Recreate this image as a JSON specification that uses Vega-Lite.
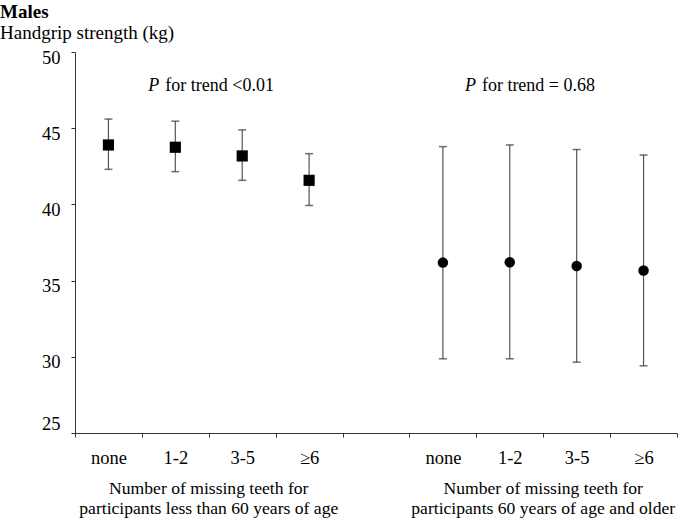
{
  "$schema": "https://vega.github.io/schema/vega-lite/v6.json",
  "width": 602,
  "height": 381,
  "autosize": {"type": "none"},
  "padding": {"left": 75, "top": 52, "right": 6, "bottom": 88},
  "background": "white",
  "title": {
    "text": "Males",
    "subtitle": "Handgrip strength (kg)",
    "anchor": "start",
    "frame": "group",
    "dx": -75,
    "offset": 5,
    "font": "Liberation Serif",
    "fontSize": 19,
    "fontWeight": "bold",
    "color": "black",
    "subtitleFont": "Liberation Serif",
    "subtitleFontSize": 19,
    "subtitleColor": "black",
    "subtitlePadding": 2
  },
  "config": {
    "view": {"stroke": null},
    "font": "Liberation Serif",
    "axis": {
      "domainColor": "#333",
      "tickColor": "#333",
      "labelColor": "black",
      "labelFont": "Liberation Serif",
      "labelFontSize": 18.5,
      "grid": false,
      "title": null,
      "tickSize": 4
    }
  },
  "datasets": {
    "pts": [
      {"key": "a_none", "group": "a", "mean": 43.9, "lo": 42.3, "hi": 45.6},
      {"key": "a_1-2", "group": "a", "mean": 43.75, "lo": 42.15, "hi": 45.46},
      {"key": "a_3-5", "group": "a", "mean": 43.18, "lo": 41.58, "hi": 44.89},
      {"key": "a_≥6", "group": "a", "mean": 41.58, "lo": 39.93, "hi": 43.33},
      {"key": "b_none", "group": "b", "mean": 36.18, "lo": 29.87, "hi": 43.79},
      {"key": "b_1-2", "group": "b", "mean": 36.2, "lo": 29.87, "hi": 43.9},
      {"key": "b_3-5", "group": "b", "mean": 35.96, "lo": 29.65, "hi": 43.6},
      {"key": "b_≥6", "group": "b", "mean": 35.66, "lo": 29.41, "hi": 43.24}
    ],
    "grp": [
      {"key": "a_3-5", "y": 21.9, "text": "Number of missing teeth for\nparticipants less than 60 years of age"},
      {"key": "b_3-5", "y": 21.9, "text": "Number of missing teeth for\nparticipants 60 years of age and older"}
    ]
  },
  "encoding": {
    "x": {
      "field": "key",
      "type": "ordinal",
      "sort": null,
      "scale": {
        "domain": ["a_none", "a_1-2", "a_3-5", "a_≥6", "gap", "b_none", "b_1-2", "b_3-5", "b_≥6"],
        "paddingInner": 0,
        "paddingOuter": 0
      },
      "axis": {
        "labelAngle": 0,
        "tickBand": "extent",
        "labelPadding": 11,
        "labelExpr": "datum.label == 'gap' ? '' : slice(datum.label, 2)"
      }
    }
  },
  "layer": [
    {
      "data": {"name": "pts"},
      "mark": {"type": "rule", "color": "#555", "strokeWidth": 1.2},
      "encoding": {
        "y": {
          "field": "lo",
          "type": "quantitative",
          "scale": {"domain": [25, 50], "nice": false, "zero": false},
          "axis": {
            "values": [25, 30, 35, 40, 45, 50],
            "labelPadding": 11,
            "labelOffset": {"condition": {"test": "datum.value == 25", "value": -10}, "value": 5}
          }
        },
        "y2": {"field": "hi"}
      }
    },
    {
      "data": {"name": "pts"},
      "mark": {"type": "tick", "color": "#333", "size": 8, "thickness": 1.5},
      "encoding": {"y": {"field": "lo", "type": "quantitative", "scale": {"domain": [25, 50], "nice": false, "zero": false}}}
    },
    {
      "data": {"name": "pts"},
      "mark": {"type": "tick", "color": "#333", "size": 8, "thickness": 1.5},
      "encoding": {"y": {"field": "hi", "type": "quantitative", "scale": {"domain": [25, 50], "nice": false, "zero": false}}}
    },
    {
      "data": {"name": "pts"},
      "mark": {"type": "point", "filled": true, "color": "black", "opacity": 1},
      "encoding": {
        "y": {"field": "mean", "type": "quantitative", "scale": {"domain": [25, 50], "nice": false, "zero": false}},
        "shape": {"field": "group", "type": "nominal", "scale": {"domain": ["a", "b"], "range": ["square", "circle"]}, "legend": null},
        "size": {"field": "group", "type": "nominal", "scale": {"domain": ["a", "b"], "range": [125, 110]}, "legend": null}
      }
    },
    {
      "data": {"values": [{"key": "a_1-2", "y": 47.78, "t": "P"}]},
      "mark": {"type": "text", "align": "left", "baseline": "middle", "fontSize": 18, "fontStyle": "italic", "font": "Liberation Serif", "color": "black", "dx": -27},
      "encoding": {
        "y": {"field": "y", "type": "quantitative", "scale": {"domain": [25, 50], "nice": false, "zero": false}},
        "text": {"field": "t"}
      }
    },
    {
      "data": {"values": [{"key": "a_1-2", "y": 47.78, "t": "for trend <0.01"}]},
      "mark": {"type": "text", "align": "left", "baseline": "middle", "fontSize": 18, "font": "Liberation Serif", "color": "black", "dx": -10},
      "encoding": {
        "y": {"field": "y", "type": "quantitative", "scale": {"domain": [25, 50], "nice": false, "zero": false}},
        "text": {"field": "t"}
      }
    },
    {
      "data": {"values": [{"key": "b_none", "y": 47.78, "t": "P"}]},
      "mark": {"type": "text", "align": "left", "baseline": "middle", "fontSize": 18, "fontStyle": "italic", "font": "Liberation Serif", "color": "black", "dx": 22},
      "encoding": {
        "y": {"field": "y", "type": "quantitative", "scale": {"domain": [25, 50], "nice": false, "zero": false}},
        "text": {"field": "t"}
      }
    },
    {
      "data": {"values": [{"key": "b_none", "y": 47.78, "t": "for trend = 0.68"}]},
      "mark": {"type": "text", "align": "left", "baseline": "middle", "fontSize": 18, "font": "Liberation Serif", "color": "black", "dx": 39},
      "encoding": {
        "y": {"field": "y", "type": "quantitative", "scale": {"domain": [25, 50], "nice": false, "zero": false}},
        "text": {"field": "t"}
      }
    },
    {
      "data": {"name": "grp"},
      "mark": {"type": "text", "align": "center", "baseline": "top", "fontSize": 17.6, "font": "Liberation Serif", "color": "black", "lineBreak": "\n", "lineHeight": 20},
      "encoding": {
        "x": {"field": "key", "type": "ordinal", "bandPosition": 0},
        "y": {"field": "y", "type": "quantitative", "scale": {"domain": [25, 50], "nice": false, "zero": false}},
        "text": {"field": "text"}
      }
    }
  ]
}
